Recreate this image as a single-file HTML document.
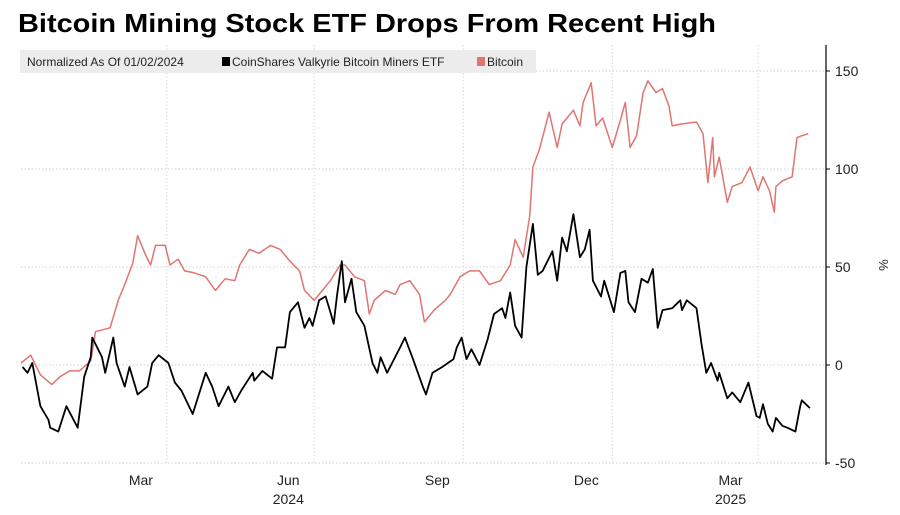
<!DOCTYPE html>
<html><head><meta charset="utf-8"><style>
body{margin:0;background:#fff;width:900px;height:510px;overflow:hidden;font-family:"Liberation Sans",sans-serif}
</style></head><body>
<svg id="chart" width="900" height="510" xmlns="http://www.w3.org/2000/svg">
<text x="18" y="32" font-size="26" font-weight="bold" fill="#000" font-family="Liberation Sans, sans-serif" textLength="698" lengthAdjust="spacingAndGlyphs">Bitcoin Mining Stock ETF Drops From Recent High</text>
<g id="grid"></g>
<g id="axis"></g>
<g id="xaxis"></g>
<g id="series"></g>
<g>
<rect x="20" y="50" width="516" height="23" fill="#ececec"/>
<text x="27" y="66" font-size="12" fill="#222">Normalized As Of 01/02/2024</text>
<rect x="222" y="57" width="8" height="9" fill="#000"/>
<text x="232" y="66" font-size="12" fill="#222">CoinShares Valkyrie Bitcoin Miners ETF</text>
<rect x="477" y="57" width="8" height="9" fill="#e07470"/>
<text x="487" y="66" font-size="12" fill="#222">Bitcoin</text>
</g>
<text transform="translate(879,265) rotate(90)" font-size="13" fill="#222" text-anchor="middle">%</text>
</svg>
<script>
const yTicks=[150,100,50,0,-50];
const quarterDays=[90,181,273,365,455];
const monthLabels=["Mar","Jun","Sep","Dec","Mar"];
const monthLabelDays=[74,165,257,349,438];
const yearLabels=["2024","2025"];
const yearLabelDays=[165,438];
const btcDays=[0,6,12,19,24,30,36,43,46,55,60,64,69,72,77,80,83,89,92,97,101,107,114,120,126,132,135,141,147,154,160,166,172,175,181,186,191,197,200,206,212,215,218,225,231,234,240,246,249,255,262,265,271,277,283,289,296,302,305,310,314,316,320,326,331,334,341,345,347,352,355,359,365,370,373,376,380,384,387,392,396,400,402,408,417,421,424,427,428,431,436,439,445,450,455,458,462,465,466,470,476,479,482,486];
const btcValues=[1,5,-5,-10,-6,-3,-3,2,17,19,33,41,52,66,56,51,61,61,51,54,48,47,45,38,44,43,51,59,57,61,59,53,48,38,33,38,43,51,51,45,43,26,33,38,36,41,43,36,22,28,33,36,45,48,48,41,43,51,64,55,76,101,110,129,111,123,130,122,134,144,122,126,111,125,134,111,117,139,145,139,141,132,122,123,124,118,93,116,96,106,83,91,93,101,89,96,89,78,91,94,96,116,117,118];
const etfDays=[1,4,7,12,17,18,23,28,35,39,43,44,50,52,57,59,64,67,72,78,81,85,91,95,99,106,114,118,122,128,132,136,143,144,149,155,158,163,166,171,175,178,180,184,188,191,193,195,198,200,204,207,212,217,220,222,226,234,237,242,248,250,254,260,267,269,272,275,278,283,288,292,297,299,302,305,309,312,316,319,322,328,331,334,337,341,345,348,351,353,358,360,366,370,373,375,379,383,387,390,393,396,402,407,408,411,417,420,423,426,430,431,436,439,444,449,454,456,458,461,464,466,470,473,478,481,482,487];
const etfValues=[-1,-4,1,-21,-28,-32,-34,-21,-32,-6,4,14,4,-4,14,1,-11,-1,-15,-11,1,5,1,-9,-13,-25,-4,-11,-21,-11,-19,-13,-4,-8,-3,-7,9,9,27,32,19,24,20,33,35,27,21,35,53,32,44,27,20,1,-4,4,-4,9,14,3,-11,-15,-4,-1,3,9,14,3,8,0,13,26,29,24,37,20,14,50,72,46,48,58,43,65,58,77,55,59,69,43,35,43,27,47,48,32,27,44,42,49,19,28,29,33,28,33,29,11,-4,1,-8,-4,-17,-14,-19,-9,-26,-27,-20,-30,-34,-27,-31,-32,-34,-21,-18,-22];

const NS="http://www.w3.org/2000/svg";
const X0=21,PXD=1.62,Y0=365,PXV=1.96,AX=826,TOP=45,BOT=465;
function xs(d){return X0+d*PXD;}
function ys(v){return Y0-v*PXV;}
function mk(tag,attrs,parent){const e=document.createElementNS(NS,tag);for(const k in attrs)e.setAttribute(k,attrs[k]);parent.appendChild(e);return e;}
const grid=document.getElementById('grid'),axis=document.getElementById('axis'),xaxis=document.getElementById('xaxis'),series=document.getElementById('series');
yTicks.forEach(t=>{
  const l=mk('line',{x1:X0,x2:AX,y1:ys(t),y2:ys(t),stroke:'#cfcfcf','stroke-dasharray':'1.5,2'},grid);
  
  
  const tk=mk('line',{x1:AX,x2:AX+4,y1:ys(t),y2:ys(t),stroke:'#000'},axis);
  
  
  const tx=mk('text',{x:AX+9,y:ys(t)+5,'font-size':14,fill:'#222'},axis);
  tx.textContent=t;
  
  
});
const al=mk('line',{x1:AX,x2:AX,y1:TOP,y2:BOT,stroke:'#000','stroke-width':1.2},axis);


quarterDays.forEach(d=>{
  const l=mk('line',{x1:xs(d),x2:xs(d),y1:TOP,y2:BOT,stroke:'#d8d8d8','stroke-dasharray':'1.5,2'},grid);
  
  
});
monthLabels.forEach((m,i)=>{
  const t=mk('text',{x:xs(monthLabelDays[i]),y:485,'font-size':14,fill:'#222','text-anchor':'middle'},xaxis);
  t.textContent=m;
  
  
});
yearLabels.forEach((m,i)=>{
  const t=mk('text',{x:xs(yearLabelDays[i]),y:504,'font-size':14,fill:'#222','text-anchor':'middle'},xaxis);
  t.textContent=m;
  
  
});
function line(days,vals,color,name,w){
  const d=days.map((dd,i)=>(i?'L':'M')+xs(dd).toFixed(1)+','+ys(vals[i]).toFixed(1)).join('');
  const p=mk('path',{d:d,fill:'none',stroke:color,'stroke-width':w,'stroke-linejoin':'round'},series);
  
  
}
line(btcDays,btcValues,'#e07470','bitcoin-line',1.5);
line(etfDays,etfValues,'#000','etf-line',1.8);
</script>
</body></html>
